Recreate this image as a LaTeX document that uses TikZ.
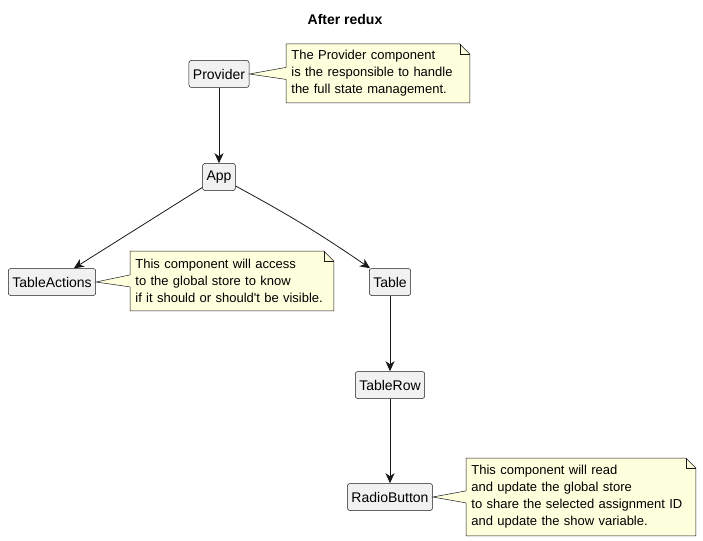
\documentclass[tikz,border=0pt]{standalone}
\usepackage{fontspec}
\setmainfont{Liberation Sans}
\usetikzlibrary{arrows.meta,calc,backgrounds}

\definecolor{compfill}{HTML}{F1F1F1}
\definecolor{notefill}{HTML}{FEFFDD}
\definecolor{linecol}{HTML}{181818}

\tikzset{
	comp/.style={draw=linecol, fill=compfill, rounded corners=2.5, line width=0.5,
		minimum height=27, inner xsep=4, font=\fontsize{14}{16}\selectfont},
	notebox/.style={anchor=north west, inner xsep=5, inner ysep=0, align=left,
		font=\fontsize{13}{17}\selectfont},
	noteline/.style={draw=linecol, fill=notefill, line width=0.5},
}

% paper with a folded corner behind a note node
\newcommand\notepaper[1]{%
	\begin{scope}[on background layer]
	\draw[noteline] (#1.north west) -- ($(#1.north east)+(-10,0)$)
		-- ($(#1.north east)+(0,10)$) -- (#1.south east) -- (#1.south west) -- cycle;
	\draw[linecol, line width=0.5] ($(#1.north east)+(-10,0)$)
		-- ($(#1.north east)+(-10,10)$) -- ($(#1.north east)+(0,10)$);
	\end{scope}}
% wedge from a component to its note
\newcommand\notelink[2]{%
	\fill[notefill] (#1.east) -- ($(#2.west)+(1,-6)$) -- ($(#2.west)+(1,6)$) -- cycle;
	\draw[linecol, line width=0.5] ($(#2.west)+(0,-6)$) -- (#1.east) -- ($(#2.west)+(0,6)$);}

\begin{document}
\begin{tikzpicture}[
	x=1pt, y=-1pt,
	>={Stealth[length=10pt,width=9pt,inset=3pt]}, % plantuml-like heads
	line width=0.8, draw=linecol
]
\useasboundingbox (0,0) rectangle (703,540);

\node[font=\bfseries\fontsize{14}{16}\selectfont] (title) at (345,19) {After redux};

% components
\node[comp] (Provider) at (219,74) {Provider};
\node[comp] (App) at (219,177) {App};
\node[comp] (TableActions) at (52,282) {TableActions};
\node[comp] (Table) at (390,282) {Table};
\node[comp] (TableRow) at (390,385) {TableRow};
\node[comp] (RadioButton) at (390,497) {RadioButton};

% notes
\node[notebox, text width=173, minimum height=58] (ProviderNote) at (286,44)
	{The Provider component\\is the responsible to handle\\the full state management.};
\node[notebox, text width=193, minimum height=59] (ActionsNote) at (130,251)
	{This component will access\\to the global store to know\\if it should or should\textquotesingle t be visible.};
\node[notebox, text width=219, minimum height=77] (RadioNote) at (466,458)
	{This component will read\\and update the global store\\to share the selected assignment ID\\and update the show variable.};
\notepaper{ProviderNote}
\notepaper{ActionsNote}
\notepaper{RadioNote}
\notelink{Provider}{ProviderNote}
\notelink{TableActions}{ActionsNote}
\notelink{RadioButton}{RadioNote}

% edges
\draw[->, linecol] (Provider) -- (App);
\draw[->, linecol] (App) -- (TableActions);
\draw[->, linecol] (App) to[bend left=3] (Table);
\draw[->, linecol] (Table) -- (TableRow);
\draw[->, linecol] (TableRow) -- (RadioButton);
\end{tikzpicture}
\end{document}
